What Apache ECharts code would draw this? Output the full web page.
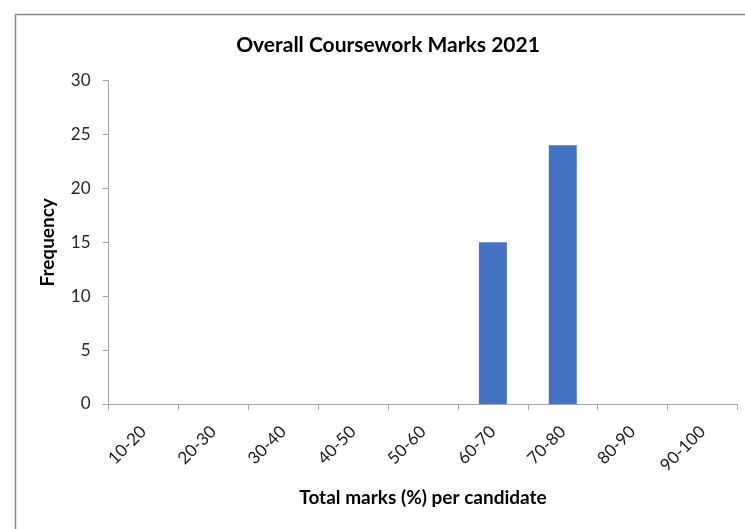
<!DOCTYPE html>
<html>
<head>
<meta charset="utf-8">
<script src="https://cdn.jsdelivr.net/npm/echarts@6/dist/echarts.min.js"></script>
<style>
html,body{margin:0;padding:0;background:#fff;}
#chart{width:745px;height:529px;}
</style>
</head>
<body>
<div id="chart"></div>
<script>
const categories = ['10-20','20-30','30-40','40-50','50-60','60-70','70-80','80-90','90-100'];
const frequency = [0,0,0,0,0,15,24,0,0];
const titleText = 'Overall Coursework Marks 2021';
const xName = 'Total marks (%) per candidate';
const yName = 'Frequency';

const FONT = 'Lato';
const chart = echarts.init(document.getElementById('chart'), null, {renderer:'canvas'});
chart.setOption({
  animation: false,
  backgroundColor: '#ffffff',
  title: {
    text: titleText,
    left: 383, top: 30, textAlign: 'center',
    textStyle: {fontFamily: FONT, fontWeight: 'bold', fontSize: 21, color: '#000'}
  },
  graphic: [{
    type: 'rect', left: 13, top: 12, silent: true,
    shape: {width: 740, height: 530},
    style: {fill: 'none', stroke: '#8c8c8c', lineWidth: 1.5}
  }],
  grid: {left: 108.5, right: 7.5, top: 80.7, bottom: 125},
  xAxis: {
    type: 'category',
    data: categories,
    name: xName,
    nameLocation: 'middle',
    nameGap: 84,
    nameTextStyle: {fontFamily: FONT, fontWeight: 'bold', fontSize: 19, color: '#000'},
    axisLine: {lineStyle: {color: '#a6a6a6', width: 1}},
    axisTick: {show: true, length: 6, lineStyle: {color: '#a6a6a6'}},
    axisLabel: {rotate: 45, margin: 25, fontFamily: FONT, fontSize: 17, color: '#1a1a1a'}
  },
  yAxis: {
    type: 'value',
    min: 0, max: 30, interval: 5,
    name: yName,
    nameLocation: 'middle',
    nameGap: 51,
    nameTextStyle: {fontFamily: FONT, fontWeight: 'bold', fontSize: 19, color: '#000'},
    axisLine: {show: true, lineStyle: {color: '#a6a6a6', width: 1}},
    axisTick: {show: true, length: 6, lineStyle: {color: '#a6a6a6'}},
    axisLabel: {margin: 18, fontFamily: FONT, fontSize: 17, color: '#262626'},
    splitLine: {show: false}
  },
  series: [{
    type: 'bar',
    data: frequency,
    barWidth: '40%',
    itemStyle: {color: '#4472c4'}
  }]
});
</script>
</body>
</html>
